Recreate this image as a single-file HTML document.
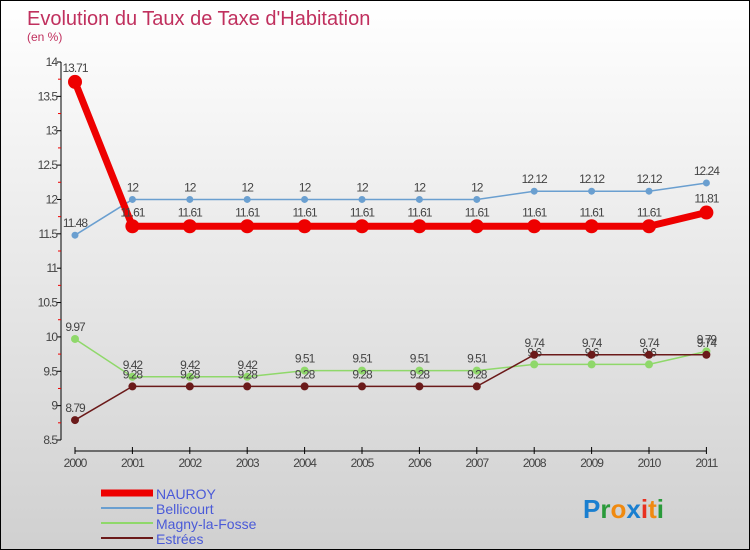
<!DOCTYPE html>
<html><head><meta charset="utf-8"><style>
body{margin:0}
#c{width:748px;height:548px;border:1px solid #000;background:linear-gradient(#fff,#d0d0d0);position:relative;font-family:"Liberation Sans",sans-serif;overflow:hidden}
</style></head><body>
<div id="c">
<svg id="s" width="748" height="548" style="position:absolute;left:0;top:0"></svg>
</div>
<script>
const years=["2000","2001","2002","2003","2004","2005","2006","2007","2008","2009","2010","2011"];
const nauroy=[13.71,11.61,11.61,11.61,11.61,11.61,11.61,11.61,11.61,11.61,11.61,11.81];
const bellicourt=[11.48,12,12,12,12,12,12,12,12.12,12.12,12.12,12.24];
const magny=[9.97,9.42,9.42,9.42,9.51,9.51,9.51,9.51,9.6,9.6,9.6,9.79];
const estrees=[8.79,9.28,9.28,9.28,9.28,9.28,9.28,9.28,9.74,9.74,9.74,9.74];
const yTicks=[8.5,9,9.5,10,10.5,11,11.5,12,12.5,13,13.5,14];
const NS="http://www.w3.org/2000/svg";
const s=document.getElementById('s');
function X(i){return 74+i*57.4;}
function Y(v){return 439-(v-8.5)/5.5*378;}
function el(t,a,p){const e=document.createElementNS(NS,t);for(const k in a)e.setAttribute(k,a[k]);(p||s).appendChild(e);return e;}
function fmt(v){return String(v);}
// title
let t=el('text',{x:26,y:24,'font-size':20,fill:'#c0305e'});t.textContent="Evolution du Taux de Taxe d'Habitation";

t=el('text',{x:26,y:40,'font-size':12,fill:'#c0305e'});t.textContent="(en %)";

// axes
let ax=el('line',{x1:60,y1:Y(14),x2:60,y2:Y(8.5),stroke:'#000'});

yTicks.forEach(v=>{el('line',{x1:56,y1:Y(v),x2:60,y2:Y(v),stroke:'#000'});
 el('line',{x1:57,y1:Y(v+0.25),x2:60,y2:Y(v+0.25),stroke:v<14?'#e00':'none'});
 const tt=el('text',{x:56,y:Y(v)+4,'font-size':12,fill:'#444','text-anchor':'end','letter-spacing':'-1'});tt.textContent=fmt(v);
 });
ax=el('line',{x1:X(0),y1:450,x2:X(11),y2:450,stroke:'#000'});

years.forEach((y,i)=>{el('line',{x1:X(i),y1:446,x2:X(i),y2:453,stroke:'#000'});
 const tt=el('text',{x:X(i),y:466,'font-size':12,fill:'#444','text-anchor':'middle','letter-spacing':'-1'});tt.textContent=y;
 });
function series(data,color,w,r,name,lblOff){
 const g=el('g',{});
 el('polyline',{points:data.map((v,i)=>X(i)+','+Y(v)).join(' '),fill:'none',stroke:color,'stroke-width':w},g);
 data.forEach((v,i)=>{const c=el('circle',{cx:X(i),cy:Y(v),r:r,fill:color},g);
  
  const tt=el('text',{x:X(i),y:Y(v)+lblOff,'font-size':12,fill:'#444','text-anchor':'middle','letter-spacing':'-1'},g);tt.textContent=fmt(v);});
}
series(bellicourt,'#6a9fd0',1.5,3.5,'bellicourt',-8);
series(magny,'#8fd86a',1.5,4,'magny',-8);
series(estrees,'#6b1a1a',1.5,4,'estrees',-8);
series(nauroy,'#ee0000',7,7,'nauroy',-10);
// legend
const leg=[["NAUROY","#ee0000",7],["Bellicourt","#6a9fd0",2],["Magny-la-Fosse","#8fd86a",2],["Estrées","#6b1a1a",2]];
leg.forEach((l,i)=>{const g=el('g',{});
 const y=492+i*15;el('line',{x1:100,y1:y,x2:152,y2:y,stroke:l[1],'stroke-width':l[2]},g);
 const tt=el('text',{x:155,y:y+6,'font-size':14,fill:'#4a5ad8'},g);tt.textContent=l[0];});
// logo
const lg=el('text',{x:582,y:517,'font-size':26,'font-weight':'bold'});
[["P","#1a7fd0"],["r","#2a9a3a"],["o","#f08a10"],["x","#1a7fd0"],["i","#e83020"],["t","#f08a10"],["i","#2a9a3a"]].forEach(p=>{const ts=el('tspan',{fill:p[1]},lg);ts.textContent=p[0];});
</script>
</body></html>
